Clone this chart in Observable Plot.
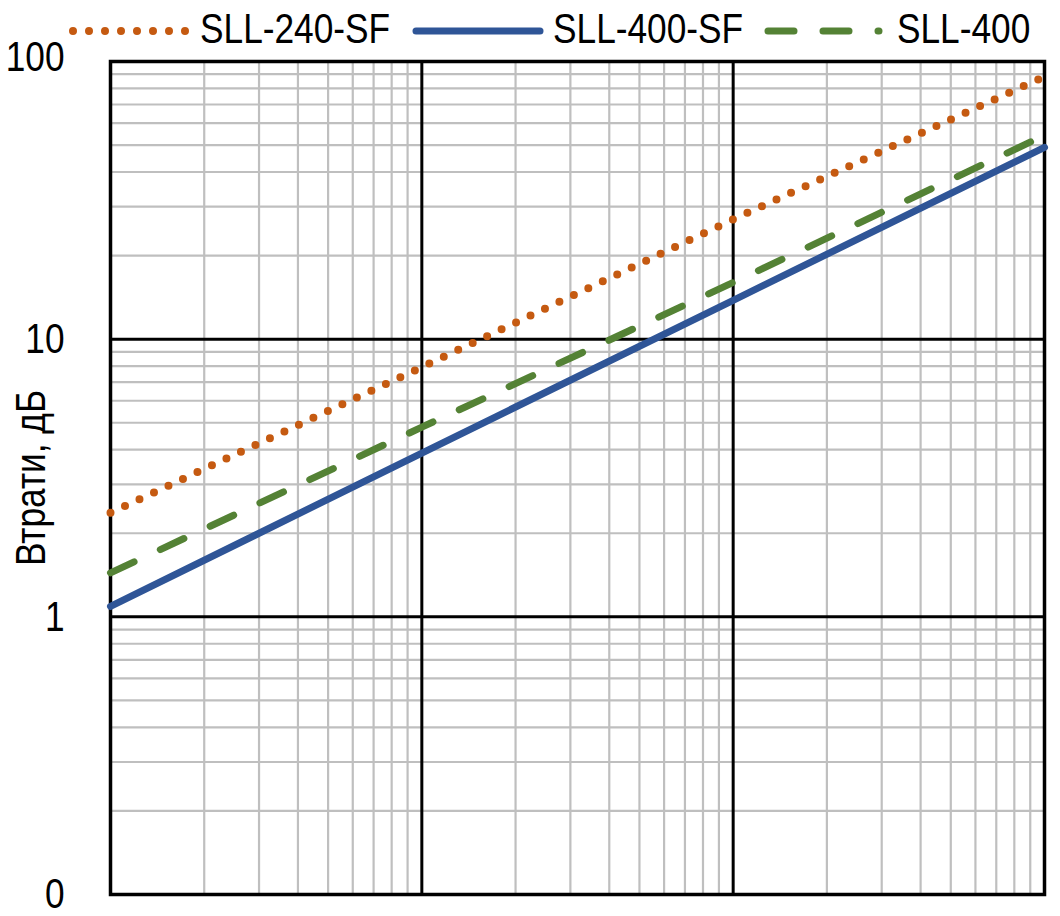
<!DOCTYPE html>
<html>
<head>
<meta charset="utf-8">
<script src="https://cdn.jsdelivr.net/npm/d3@7"></script>
<script src="https://cdn.jsdelivr.net/npm/@observablehq/plot@0.6"></script>
<style>
  html, body { margin: 0; padding: 0; background: #fff; }
  #wrap { position: relative; width: 1060px; height: 916px; }
  #legend { position: absolute; left: 0; top: 0; }
</style>
</head>
<body>
<div id="wrap"></div>
<script>
// ---- data ----
const freq = [10, 100, 1000, 10000];
const sll240sf = [2.37, 7.93, 27.0, 88.3];
const sll400sf = [1.09, 3.89, 13.8, 49.1];
const sll400 = [1.44, 4.82, 16.0, 54.2];
const seriesNames = ["SLL-240-SF", "SLL-400-SF", "SLL-400"];
const yTicks = [0.1, 1, 10, 100];
const yTickLabels = ["0", "1", "10", "100"];
const yLabel = "Втрати, дБ";

const colors = {"SLL-240-SF": "#C55A11", "SLL-400-SF": "#2F5597", "SLL-400": "#548235"};

const toRows = (name, vals) => freq.map((f, i) => ({name, f, v: vals[i]}));
const rows240 = toRows("SLL-240-SF", sll240sf);
const rows400sf = toRows("SLL-400-SF", sll400sf);
const rows400 = toRows("SLL-400", sll400);

const minorX = [], majorX = [100, 1000];
for (const d of [10, 100, 1000]) for (let k = 2; k <= 9; k++) minorX.push(d * k);
const minorY = [], majorY = [1, 10];
for (const d of [0.1, 1, 10]) for (let k = 2; k <= 9; k++) minorY.push(+(d * k).toFixed(3));

const FONT = "'Liberation Sans', Arial, sans-serif";
const fmt = (d) => yTickLabels[yTicks.indexOf(d)];

const chart = Plot.plot({
  width: 1060,
  height: 916,
  marginTop: 61,
  marginBottom: 22,
  marginLeft: 110,
  marginRight: 16,
  style: {fontFamily: FONT, fontSize: "43px", color: "#000", background: "#fff"},
  x: {type: "log", domain: [10, 10000], axis: null},
  y: {type: "log", domain: [0.1, 100], axis: null},
  marks: [
    Plot.ruleX(minorX, {stroke: "#BFBFBF", strokeWidth: 2.2}),
    Plot.ruleY(minorY, {stroke: "#BFBFBF", strokeWidth: 2.2}),
    Plot.ruleX(majorX, {stroke: "#000", strokeWidth: 3}),
    Plot.ruleY(majorY, {stroke: "#000", strokeWidth: 3}),
    Plot.frame({stroke: "#000", strokeWidth: 3.5}),
    Plot.axisY(yTicks.slice(0, 3), {
      anchor: "left",
      tickSize: 0,
      tickPadding: 46,
      tickFormat: fmt,
      fontSize: 43,
      label: yLabel,
      labelAnchor: "center",
      labelArrow: "none",
      labelOffset: 96
    }),
    Plot.axisY(yTicks.slice(3), {
      anchor: "left",
      tickSize: 0,
      tickPadding: 46,
      tickFormat: fmt,
      fontSize: 43,
      dy: -4,
      label: null
    }),
    Plot.line(rows400sf, {x: "f", y: "v", stroke: colors["SLL-400-SF"], strokeWidth: 7, strokeLinecap: "round"}),
    Plot.line(rows400, {x: "f", y: "v", stroke: colors["SLL-400"], strokeWidth: 7, strokeLinecap: "round", strokeDasharray: "26,29"}),
    Plot.line(rows240, {x: "f", y: "v", stroke: colors["SLL-240-SF"], strokeWidth: 8, strokeLinecap: "round", strokeDasharray: "0,16"})
  ]
});

const wrap = document.getElementById("wrap");
wrap.appendChild(chart);

// ---- legend (top) ----
const leg = d3.create("svg")
  .attr("id", "legend")
  .attr("width", 1060).attr("height", 46)
  .style("overflow", "visible");
const items = [
  {name: seriesNames[0], x1: 73, x2: 185.5, tx: 200, dash: "0,16", w: 8},
  {name: seriesNames[1], x1: 416, x2: 540, tx: 553, dash: null, w: 7},
  {name: seriesNames[2], x1: 768, x2: 879, tx: 897, dash: "26,29", w: 7}
];
for (const it of items) {
  const ln = leg.append("line")
    .attr("x1", it.x1).attr("x2", it.x2).attr("y1", 31).attr("y2", 31)
    .attr("stroke", colors[it.name]).attr("stroke-width", it.w)
    .attr("stroke-linecap", "round");
  if (it.dash) ln.attr("stroke-dasharray", it.dash);
  leg.append("text")
    .attr("x", it.tx).attr("y", 43)
    .attr("font-family", FONT).attr("font-size", 43).attr("fill", "#000")
    .text(it.name);
}
wrap.appendChild(leg.node());

// condense all text to mimic Arial Narrow
for (const t of wrap.querySelectorAll("text")) {
  const L = t.getComputedTextLength();
  if (L > 0) {
    t.setAttribute("textLength", (L * 0.82).toFixed(1));
    t.setAttribute("lengthAdjust", "spacingAndGlyphs");
  }
}
</script>
</body>
</html>
